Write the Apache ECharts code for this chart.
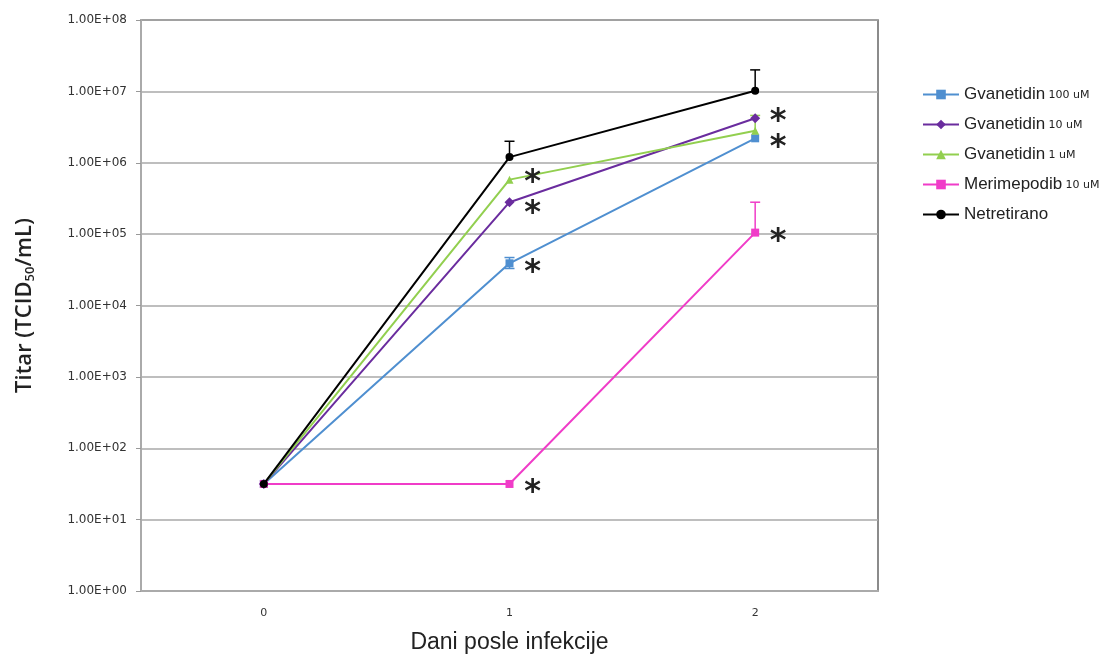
<!DOCTYPE html>
<html>
<head>
<meta charset="utf-8">
<script src="https://cdn.jsdelivr.net/npm/echarts@6/dist/echarts.min.js"></script>
<style>
  html, body { margin: 0; padding: 0; background: #fff; }
  #chart { width: 1114px; height: 660px; }
</style>
</head>
<body>
<div id="chart"></div>
<script>
// podaci očitani sa grafika
var days = ['0', '1', '2'];
var yTickLabels = ['1.00E+00', '1.00E+01', '1.00E+02', '1.00E+03', '1.00E+04',
  '1.00E+05', '1.00E+06', '1.00E+07', '1.00E+08'];

var names = ['Gvanetidin 100 uM', 'Gvanetidin 10 uM', 'Gvanetidin 1 uM', 'Merimepodib 10 uM', 'Netretirano'];
var colors = ['#4f8fd0', '#6a2c9e', '#92cf4f', '#f03cc8', '#000000'];
var symbols = ['rect', 'diamond', 'triangle', 'rect', 'circle'];

var gva100 = [31.6, 3.9e4, 2.2e6];
var gva10 = [31.6, 2.8e5, 4.2e6];
var gva1 = [31.6, 5.8e5, 2.8e6];
var merimepodib = [31.6, 31.6, 1.05e5];
var netretirano = [31.6, 1.2e6, 1.02e7];

// greške: [dan, srednja, donja, gornja]
var gva100Err = [[1, 3.9e4, 3.3e4, 4.7e4]];
var gva1Err = [[2, 2.8e6, 2.8e6, 4.6e6]];
var merimepodibErr = [[2, 1.05e5, 1.05e5, 2.8e5]];
var netretiranoErr = [[1, 1.2e6, 1.2e6, 2.0e6], [2, 1.02e7, 1.02e7, 2.0e7]];

// zvezdice (značajnost)
var starDays = [1, 1, 1, 1, 2, 2, 2];
var starValues = [7.0e5, 2.6e5, 3.9e4, 31.6, 5.0e6, 2.2e6, 1.05e5];

var seriesData = [gva100, gva10, gva1, merimepodib, netretirano];
var errData = [gva100Err, [], gva1Err, merimepodibErr, netretiranoErr];

var myChart = echarts.init(document.getElementById('chart'));

var series = [];
for (let i = 0; i < names.length; i++) {
  series.push({
    name: names[i],
    type: 'line',
    data: seriesData[i],
    symbol: symbols[i],
    symbolSize: symbols[i] == 'diamond' ? 10 : 8,
    lineStyle: { color: colors[i], width: 2 },
    itemStyle: { color: colors[i] },
    z: 3 + i
  });
}

for (let i = 0; i < names.length; i++) {
  if (!errData[i].length) continue;
  let c = colors[i];
  series.push({
    type: 'custom',
    data: errData[i],
    z: 2,
    renderItem: function (params, api) {
      var x = api.value(0);
      var mean = api.value(1);
      var lo = api.coord([x, api.value(2)]);
      var hi = api.coord([x, api.value(3)]);
      var st = { stroke: c, lineWidth: 1.5 };
      var children = [
        { type: 'line', shape: { x1: lo[0], y1: lo[1], x2: hi[0], y2: hi[1] }, style: st },
        { type: 'line', shape: { x1: hi[0] - 5, y1: hi[1], x2: hi[0] + 5, y2: hi[1] }, style: st }
      ];
      if (api.value(2) < mean) {
        children.push({ type: 'line', shape: { x1: lo[0] - 5, y1: lo[1], x2: lo[0] + 5, y2: lo[1] }, style: st });
      }
      return { type: 'group', children: children };
    }
  });
}

series.push({
  type: 'custom',
  data: starDays.map(function (d, i) { return [d, starValues[i]]; }),
  z: 10,
  renderItem: function (params, api) {
    var p = api.coord([api.value(0), api.value(1)]);
    return {
      type: 'text',
      style: {
        text: '*', x: p[0] + 23, y: p[1] + 9,
        fill: '#222', font: 'bold 32px "DejaVu Sans"',
        align: 'center', verticalAlign: 'middle'
      }
    };
  }
});

var option = {
  animation: false,
  backgroundColor: '#fff',
  grid: {
    left: 141, right: 236, top: 20, bottom: 69,
    show: true, borderColor: '#666', borderWidth: 1.5
  },
  legend: {
    data: names,
    orient: 'vertical',
    left: 922,
    top: 86,
    padding: 0,
    itemWidth: 36,
    itemHeight: 12,
    itemGap: 13,
    textStyle: {
      color: '#222',
      rich: {
        m: { fontFamily: 'Liberation Sans', fontSize: 17, color: '#222' },
        s: { fontFamily: 'DejaVu Sans', fontSize: 11, color: '#222', padding: [2, 0, 0, 0] }
      }
    },
    formatter: function (name) {
      var k = name.indexOf(' ');
      if (k < 0) return '{m|' + name + '}';
      return '{m|' + name.slice(0, k) + '} {s|' + name.slice(k + 1) + '}';
    }
  },
  xAxis: {
    type: 'category',
    data: days,
    boundaryGap: true,
    name: 'Dani posle infekcije',
    nameLocation: 'middle',
    nameGap: 40,
    nameTextStyle: { fontFamily: 'Liberation Sans', fontSize: 23, color: '#222' },
    axisLine: { lineStyle: { color: '#aaa', width: 2 } },
    axisTick: { show: false },
    axisLabel: { margin: 17, fontFamily: 'DejaVu Sans', fontSize: 11, color: '#333' }
  },
  yAxis: {
    type: 'log',
    logBase: 10,
    min: 1,
    max: 1e8,
    name: '{b|Titar (TCID}{sub|50}{b|/mL)}',
    nameLocation: 'middle',
    nameGap: 104,
    nameRotate: 90,
    nameTextStyle: {
      rich: {
        b: { fontFamily: 'Open Sans', fontWeight: 600, fontSize: 22, color: '#222' },
        sub: { fontFamily: 'Open Sans', fontWeight: 600, fontSize: 13, color: '#222', padding: [11, 0, 0, 0] }
      }
    },
    axisLine: { show: true, lineStyle: { color: '#aaa', width: 2 } },
    axisTick: { show: true, length: 5, lineStyle: { color: '#999' } },
    axisLabel: {
      fontFamily: 'DejaVu Sans', fontSize: 12, color: '#333', margin: 14,
      formatter: function (v) { return yTickLabels[Math.round(Math.log10(v))]; }
    },
    splitLine: { lineStyle: { color: '#a8a8a8', width: 1.5 } }
  },
  series: series
};

myChart.setOption(option);
</script>
</body>
</html>
